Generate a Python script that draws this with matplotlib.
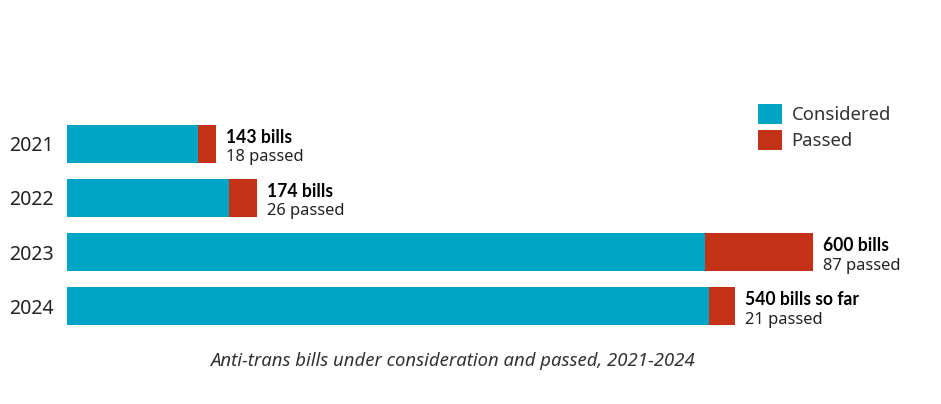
import matplotlib
matplotlib.use("Agg")
import matplotlib.pyplot as plt
from matplotlib.patches import Patch
from matplotlib.font_manager import FontProperties

years = ["2021", "2022", "2023", "2024"]
considered = [105, 130, 513, 516]
passed = [15, 23, 87, 21]
label_main = ["143 bills", "174 bills", "600 bills", "540 bills so far"]
label_sub = ["18 passed", "26 passed", "87 passed", "21 passed"]

TEAL = "#00a4c5"
RED = "#c33116"
TXT = "#222222"

plt.rcParams['font.family'] = ['Noto Sans', 'DejaVu Sans']

bold_fp = FontProperties(family=['Lato', 'DejaVu Sans'], weight='bold', size=17.5)

W, H = 941, 404
fig = plt.figure(figsize=(W / 72, H / 72), dpi=72)
ax = fig.add_axes([67 / W, 1 - 333 / H, (W - 67) / W, (333 - 117) / H])
xmax = (W - 67) / 1.244
ax.set_xlim(0, xmax)
ax.set_ylim(3.5, -0.5)

ypos = list(range(len(years)))
ax.barh(ypos, considered, height=0.69, color=TEAL, linewidth=0)
ax.barh(ypos, passed, left=considered, height=0.69, color=RED, linewidth=0)

for i in ypos:
    tot = considered[i] + passed[i]
    ax.annotate(label_main[i], xy=(tot, i), xytext=(10, 1), textcoords="offset points",
                ha="left", va="baseline", fontproperties=bold_fp, color="#000000")
    ax.annotate(label_sub[i], xy=(tot, i), xytext=(10, -17.5), textcoords="offset points",
                ha="left", va="baseline", fontsize=16.5, color=TXT)

ax.set_yticks(ypos)
ax.set_yticklabels(years, fontsize=19.5, color=TXT)
ax.tick_params(axis="y", length=0, pad=13)
ax.set_xticks([])
for s in ax.spines.values():
    s.set_visible(False)

handles = [Patch(facecolor=TEAL, edgecolor="none", label="Considered"),
           Patch(facecolor=RED, edgecolor="none", label="Passed")]
leg = fig.legend(handles=handles, loc="upper left", bbox_to_anchor=(758 / W, 1 - 104 / H),
                 frameon=False, fontsize=18.5, handlelength=1.32, handleheight=1.32,
                 handletextpad=0.5, labelspacing=0.28, borderaxespad=0, borderpad=0)
for t in leg.get_texts():
    t.set_color("#333333")

fig.text(452 / W, 1 - 366 / H, "Anti-trans bills under consideration and passed, 2021-2024",
         ha="center", va="baseline", fontsize=18.5, style="italic", color="#333333")

fig.savefig("out.png", dpi=72)
